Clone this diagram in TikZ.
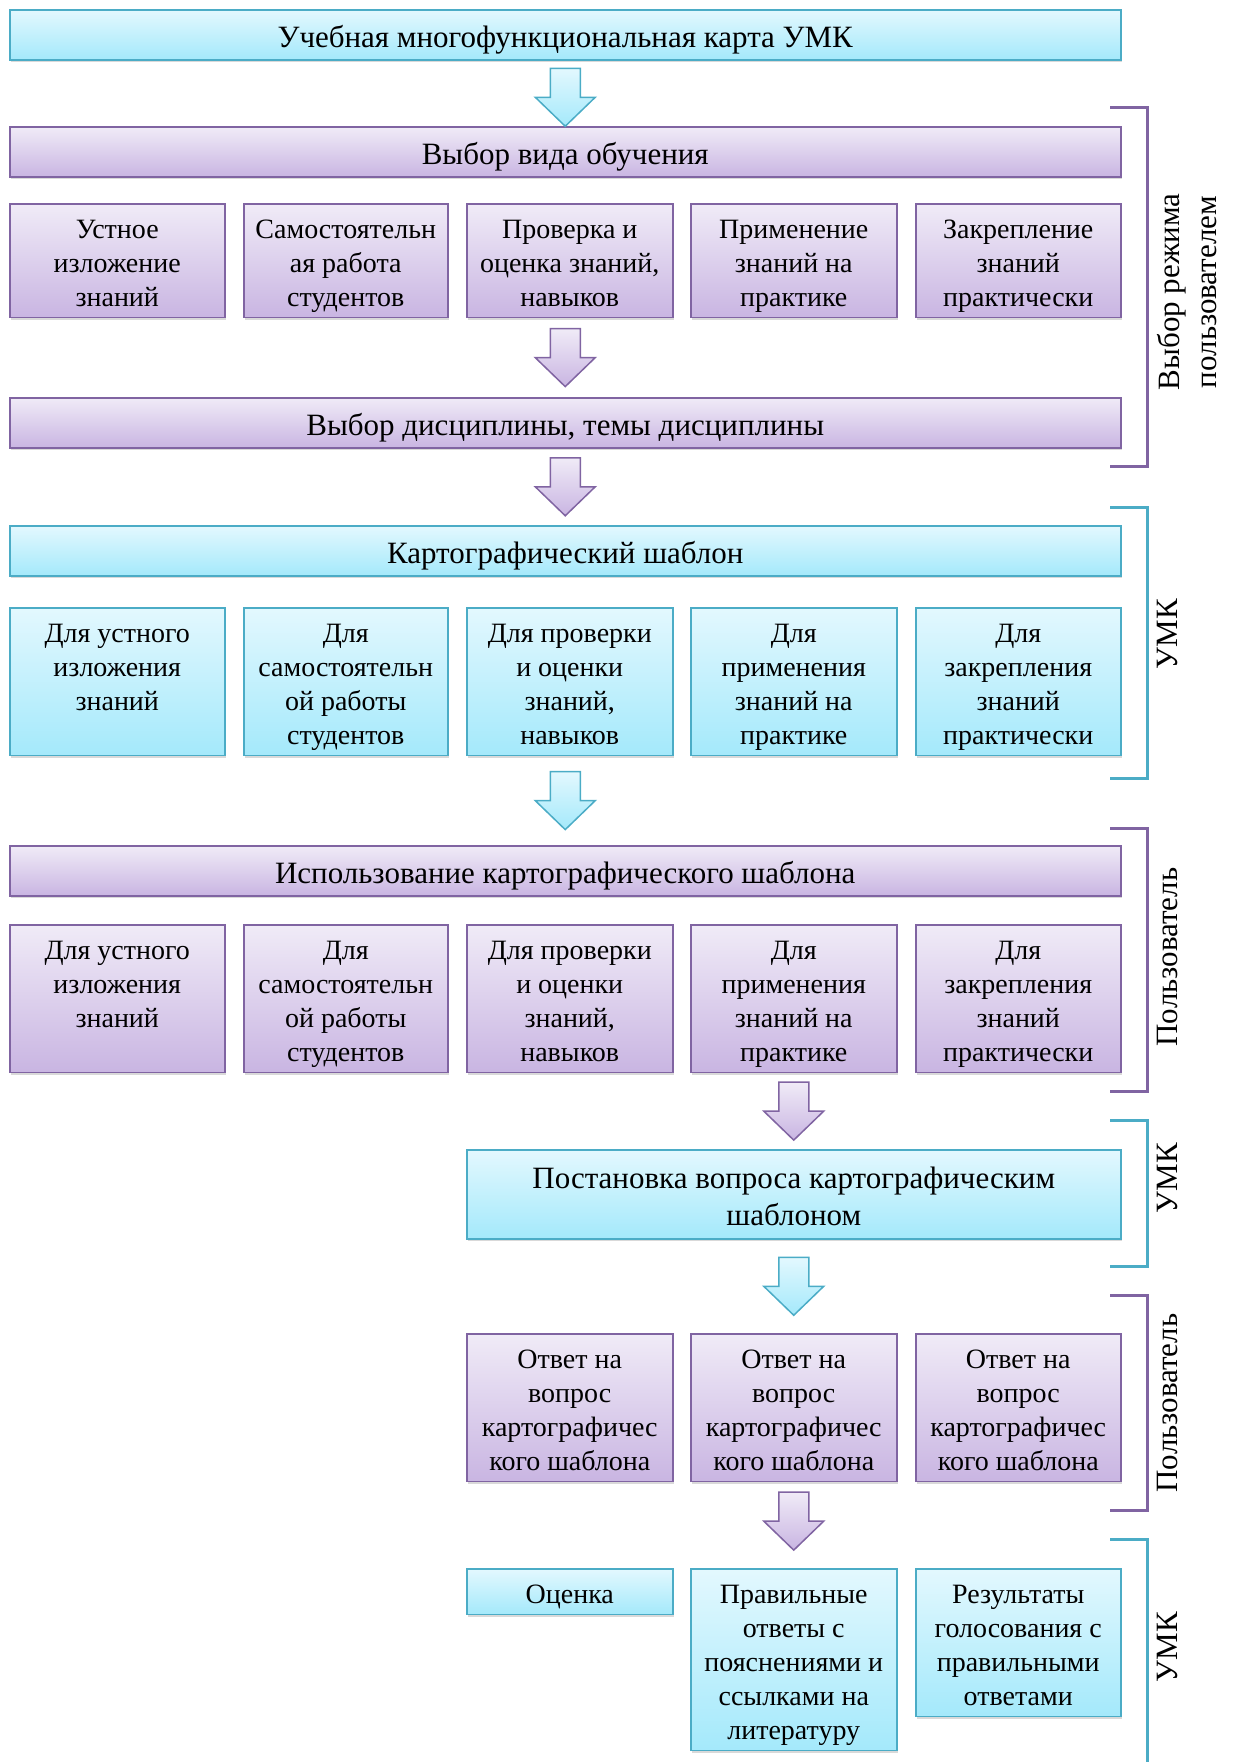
\documentclass[tikz,border=0pt]{standalone}
\usepackage{fontspec}
\setmainfont{Liberation Serif}
\usetikzlibrary{calc,shadows}

\definecolor{umkline}{HTML}{4BACC6}
\definecolor{umktop}{HTML}{E3F8FE}
\definecolor{umkbot}{HTML}{A4E9FB}
\definecolor{usrline}{HTML}{8064A2}
\definecolor{usrtop}{HTML}{F0EBF7}
\definecolor{usrbot}{HTML}{C9B5E2}

\begin{document}
\begin{tikzpicture}[x=0.5pt,y=-0.5pt,line join=miter,
  box/.style={draw,line width=0.75pt,anchor=north west,align=flush center,inner xsep=2pt,inner ysep=2.4pt,
    execute at begin node={\rule{0pt}{14.85pt}},execute at end node={\rule[-3.2pt]{0pt}{3.2pt}},
    drop shadow={shadow xshift=0.7pt,shadow yshift=-1.3pt,opacity=0.3}},
  umk/.style={box,draw=umkline,top color=umktop,bottom color=umkbot},
  usr/.style={box,draw=usrline,top color=usrtop,bottom color=usrbot},
  wide/.style={text width=551.5pt,minimum height=25pt,font=\fontsize{15.5}{18.5}\selectfont,
    execute at begin node={\rule{0pt}{16.4pt}},execute at end node={\rule[-3.8pt]{0pt}{3.8pt}}},
  cell/.style={text width=#1-4pt,font=\fontsize{14}{17}\selectfont},
  umkarrow/.style={draw=umkline,line width=0.75pt,top color=umktop,bottom color=umkbot},
  usrarrow/.style={draw=usrline,line width=0.75pt,top color=usrtop,bottom color=usrbot},
  brace/.style={line width=1.5pt},
  side/.style={rotate=90,anchor=north,align=center,inner sep=2pt,font=\fontsize{15.5}{18.5}\selectfont},
  pics/downarrow/.style={code={
    \path[pic actions] (-7.5pt,14.5pt) -- (7.5pt,14.5pt) -- (7.5pt,0pt) -- (15pt,0pt)
      -- (0pt,-14.5pt) -- (-15pt,0pt) -- (-7.5pt,0pt) -- cycle;}}]
  \useasboundingbox (0,0) rectangle (1232,1762);

  \node[umk,wide] (top) at (9,9) {Учебная многофункциональная карта УМК};
  \node[usr,wide] (mode) at (9,126) {Выбор вида обучения};

  \node[usr,cell=107.5pt] (m1) at (9,203) {Устное\\изложение\\знаний};
  \node[usr,cell=102pt] (m2) at (243,203) {Самостоятельн\\ая работа\\студентов};
  \node[usr,cell=103pt] (m3) at (466,203) {Проверка и\\оценка знаний,\\навыков};
  \node[usr,cell=103pt] (m4) at (690,203) {Применение\\знаний на\\практике};
  \node[usr,cell=102.5pt] (m5) at (915,203) {Закрепление\\знаний\\практически};

  \node[usr,wide] (disc) at (9,397) {Выбор дисциплины, темы дисциплины};
  \node[umk,wide] (tmpl) at (9,525) {Картографический шаблон};

  \node[umk,cell=107.5pt] (t1) at (9,607) {Для устного\\изложения\\знаний\\\mbox{}};
  \node[umk,cell=102pt] (t2) at (243,607) {Для\\самостоятельн\\ой работы\\студентов};
  \node[umk,cell=103pt] (t3) at (466,607) {Для проверки\\и оценки\\знаний,\\навыков};
  \node[umk,cell=103pt] (t4) at (690,607) {Для\\применения\\знаний на\\практике};
  \node[umk,cell=102.5pt] (t5) at (915,607) {Для\\закрепления\\знаний\\практически};

  \node[usr,wide] (use) at (9,845) {Использование картографического шаблона};

  \node[usr,cell=107.5pt] (u1) at (9,924) {Для устного\\изложения\\знаний\\\mbox{}};
  \node[usr,cell=102pt] (u2) at (243,924) {Для\\самостоятельн\\ой работы\\студентов};
  \node[usr,cell=103pt] (u3) at (466,924) {Для проверки\\и оценки\\знаний,\\навыков};
  \node[usr,cell=103pt] (u4) at (690,924) {Для\\применения\\знаний на\\практике};
  \node[usr,cell=102.5pt] (u5) at (915,924) {Для\\закрепления\\знаний\\практически};

  \node[umk,wide,text width=323pt,minimum height=44.5pt] (ask) at (466,1149) {Постановка вопроса картографическим\\шаблоном};

  \node[usr,cell=103pt] (q1) at (466,1333) {Ответ на\\вопрос\\картографичес\\кого шаблона};
  \node[usr,cell=103pt] (q2) at (690,1333) {Ответ на\\вопрос\\картографичес\\кого шаблона};
  \node[usr,cell=102.5pt] (q3) at (915,1333) {Ответ на\\вопрос\\картографичес\\кого шаблона};

  \node[umk,cell=103pt] (r1) at (466,1568) {Оценка};
  \node[umk,cell=103pt] (r2) at (690,1568) {Правильные\\ответы с\\пояснениями и\\ссылками на\\литературу};
  \node[umk,cell=102.5pt] (r3) at (915,1568) {Результаты\\голосования с\\правильными\\ответами};

  \pic[umkarrow] at ($(top.south)!0.5!(mode.north)+(0,4)$) {downarrow};
  \pic[usrarrow] at ($(disc.north |- m3.south)!0.5!(disc.north)$) {downarrow};
  \pic[usrarrow] at ($(disc.south)!0.5!(tmpl.north)$) {downarrow};
  \pic[umkarrow] at ($(use.north |- t3.south)!0.5!(use.north)$) {downarrow};
  \pic[usrarrow] at ($(u4.south)!0.5!(ask.north -| u4.south)$) {downarrow};
  \pic[umkarrow] at ($(ask.south -| q2.north)!0.5!(q2.north)$) {downarrow};
  \pic[usrarrow] at ($(q2.south)!0.5!(r2.north)+(0,-4)$) {downarrow};

  \draw[brace,usrline] (1110,107) -| (1147,466) -- (1110,466);
  \draw[brace,umkline] (1110,507) -| (1147,778) -- (1110,778);
  \draw[brace,usrline] (1110,828) -| (1147,1091) -- (1110,1091);
  \draw[brace,umkline] (1110,1120) -| (1147,1266) -- (1110,1266);
  \draw[brace,usrline] (1110,1295) -| (1147,1510) -- (1110,1510);
  \draw[brace,umkline] (1110,1539) -| (1147,1762);

  \node[side] (s1) at (1153,292) {Выбор режима\\пользователем};
  \node[side] (s2) at (1153,634) {УМК};
  \node[side] (s3) at (1153,957) {Пользователь};
  \node[side] (s4) at (1153,1178) {УМК};
  \node[side] (s5) at (1153,1403) {Пользователь};
  \node[side] (s6) at (1153,1647) {УМК};
\end{tikzpicture}
\end{document}
